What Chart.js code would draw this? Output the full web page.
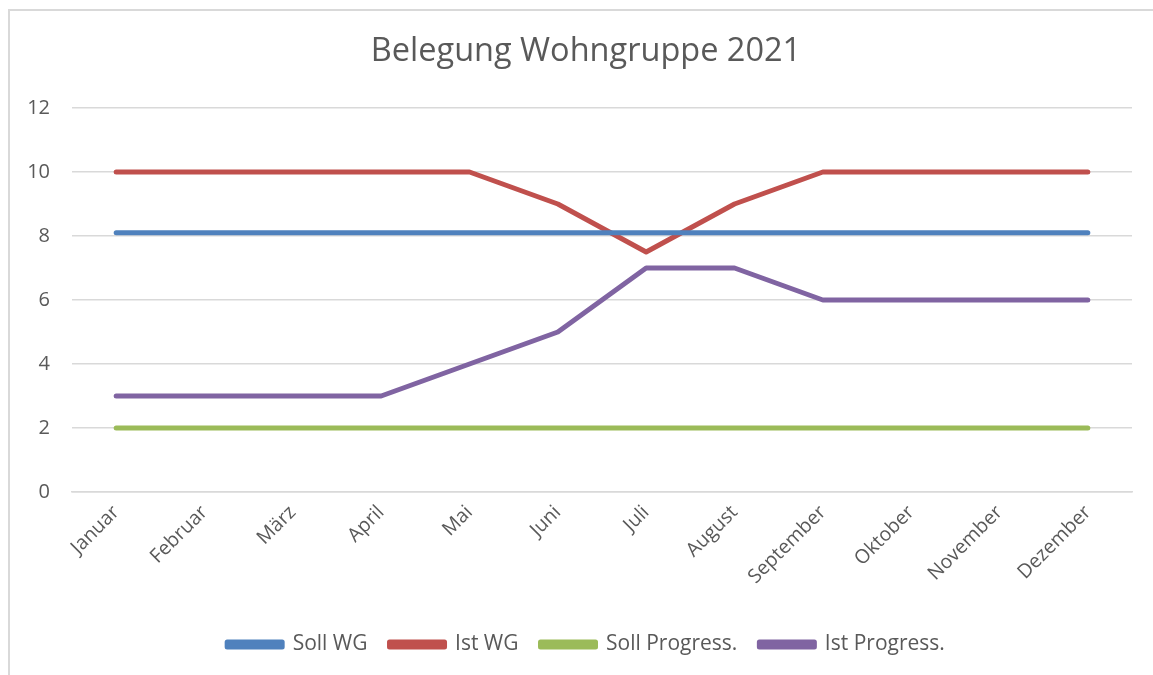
<!DOCTYPE html>
<html>
<head>
<meta charset="utf-8">
<script src="https://cdn.jsdelivr.net/npm/chart.js@4"></script>
<style>
  html, body { margin: 0; padding: 0; background: #fff; }
  #frame { position: absolute; left: 8px; top: 9px; width: 1200px; height: 700px; border: 2px solid #d9d9d9; }
  #wrap { position: absolute; left: 0; top: 0; width: 1153px; height: 675px; }
</style>
</head>
<body>
<div id="frame"></div>
<div id="wrap"><canvas id="belegungChart"></canvas></div>
<script>
const months = ['Januar', 'Februar', 'März', 'April', 'Mai', 'Juni', 'Juli', 'August', 'September', 'Oktober', 'November', 'Dezember'];
const sollWG = [8.1, 8.1, 8.1, 8.1, 8.1, 8.1, 8.1, 8.1, 8.1, 8.1, 8.1, 8.1];
const istWG = [10, 10, 10, 10, 10, 9, 7.5, 9, 10, 10, 10, 10];
const sollProgress = [2, 2, 2, 2, 2, 2, 2, 2, 2, 2, 2, 2];
const istProgress = [3, 3, 3, 3, 4, 5, 7, 7, 6, 6, 6, 6];

const textColor = '#595959';
const font = "'Open Sans', sans-serif";

function line(label, data, color) {
    return {
        label: label,
        data: data,
        borderColor: color,
        backgroundColor: color,
        borderWidth: 5,
        borderCapStyle: 'round',
        borderJoinStyle: 'round',
        pointRadius: 0,
        pointHoverRadius: 0,
        tension: 0
    };
}

// y labels are wider than the narrow axis box, so widen their clip area
const unclipY = {
    id: 'unclipY',
    afterLayout(chart) {
        chart.scales.y.left = 0;
    }
};

const ctx = document.getElementById('belegungChart').getContext('2d');
new Chart(ctx, {
    type: 'line',
    data: {
        labels: months,
        datasets: [
            line('Soll WG', sollWG, '#4f81bd'),
            line('Ist WG', istWG, '#c0504d'),
            line('Soll Progress.', sollProgress, '#9bbb59'),
            line('Ist Progress.', istProgress, '#8064a2')
        ]
    },
    plugins: [unclipY],
    options: {
        responsive: true,
        maintainAspectRatio: false,
        animation: false,
        // left padding keeps title and legend centred like the Excel frame
        layout: { padding: { left: 40, right: 21, top: 0, bottom: 10 } },
        plugins: {
            title: {
                display: true,
                text: 'Belegung Wohngruppe 2021',
                color: textColor,
                font: { family: font, size: 32.5, weight: 'normal' },
                padding: { top: 32, bottom: 37 }
            },
            legend: {
                position: 'bottom',
                labels: {
                    color: textColor,
                    font: { family: font, size: 21 },
                    boxWidth: 55,
                    boxHeight: 5,
                    padding: 22
                }
            },
            tooltip: { enabled: false }
        },
        scales: {
            x: {
                offset: true,
                grid: { display: false, drawTicks: false },
                border: { display: true, color: '#d9d9d9', width: 1.5 },
                ticks: {
                    color: textColor,
                    font: { family: font, size: 19.5 },
                    minRotation: 45,
                    maxRotation: 45,
                    padding: 9,
                    autoSkip: false
                },
                afterFit: function(scale) { scale.height = 120; }
            },
            y: {
                min: 0,
                max: 12,
                ticks: {
                    stepSize: 2,
                    color: textColor,
                    font: { family: font, size: 20 },
                    padding: 22
                },
                grid: { color: '#d9d9d9', lineWidth: 1.5, drawTicks: false },
                border: { display: false },
                afterFit: function(scale) { scale.width = 32; }
            }
        }
    }
});
</script>
</body>
</html>
